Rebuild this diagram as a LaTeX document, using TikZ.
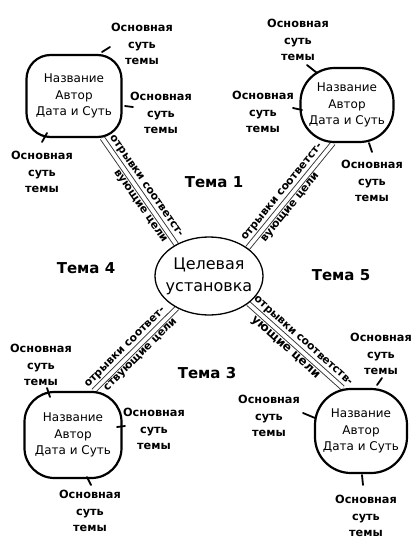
\documentclass[tikz,border=0pt]{standalone}
\usepackage{fontspec}
\setmainfont{DejaVu Sans}
\usetikzlibrary{shapes.geometric}
\pgfdeclarelayer{bg}
\pgfsetlayers{bg,main}
\newcommand\fsub{\fontsize{11.3}{16.8}\selectfont\bfseries}
\newcommand\fblob{\fontsize{12}{16.5}\selectfont}
\newcommand\fcen{\fontsize{16}{22}\selectfont}
\newcommand\ftema{\fontsize{15}{18}\selectfont\bfseries}
\newcommand\flab{\fontsize{10.8}{12}\selectfont\bfseries}
\begin{document}
\begin{tikzpicture}[x=1pt,y=-1pt,
  blob/.style={draw, line width=2.2pt, fill=white, align=center, inner sep=0pt,
    rectangle, font=\fblob},
  centre/.style={draw, line width=1.3pt, fill=white, align=center, ellipse,
    inner xsep=-6pt, inner ysep=4pt, minimum width=108pt, minimum height=78pt, font=\fcen},
  sub/.style={align=center, inner sep=0pt, font=\fsub},
  tema/.style={inner sep=0pt, font=\ftema},
  conn/.style={draw=black!80, double=white, double distance=3.8pt, line width=0.9pt},
  lab/.style={font=\flab, sloped, inner sep=0.5pt},
  tick/.style={line width=1.8pt, line cap=round}]
\useasboundingbox (0,0) rectangle (419,541);
\begin{pgfonlayer}{bg}
\fill[white] (0,0) rectangle (419,541);
\end{pgfonlayer}

% centre
\node[centre] (c) at (209,276) {Целевая\\установка};

% blobs
\node[blob, rounded corners=24pt, minimum width=95pt, minimum height=82pt] (tl) at (74,96) {Название\\Автор\\Дата и Суть};
\node[blob, rounded corners=34pt, minimum width=93pt, minimum height=74pt] (tr) at (347,105) {Название\\Автор\\Дата и Суть};
\node[blob, rounded corners=30pt, minimum width=97pt, minimum height=86pt] (bl) at (73,435) {Название\\Автор\\Дата и Суть};
\node[blob, rounded corners=36pt, minimum width=92pt, minimum height=84pt] (br) at (361,431) {Название\\Автор\\Дата и Суть};

% connectors
\begin{pgfonlayer}{bg}
\draw[conn] (tl.-56) -- (c.136)
  node[lab, pos=0.5, above=3pt] {отрывки соответст-}
  node[lab, pos=0.6, below=3pt] {вующие цели};
\draw[conn] (c.36) -- (tr.-110)
  node[lab, pos=0.48, above=3pt] {отрывки соответст-}
  node[lab, pos=0.43, below=3pt] {вующие цели};
\draw[conn] (bl.65) -- (c.-135)
  node[lab, pos=0.45, above=3pt] {отрывки соответ-}
  node[lab, pos=0.5, below=3pt] {ствующие цели};
\draw[conn] (c.-35) -- (br.113)
  node[lab, pos=0.52, above=3pt] {отрывки соответств-}
  node[lab, pos=0.45, below=3pt, font=\fontsize{12}{13}\selectfont\bfseries] {ующие цели};
\end{pgfonlayer}

% themes
\node[tema] (t1) at (214,182) {Тема 1};
\node[tema] (t4) at (86,268) {Тема 4};
\node[tema] (t5) at (341,275) {Тема 5};
\node[tema] (t3) at (207,373) {Тема 3};

% sub topics
\node[sub] (tl1) at (142,44) {Основная\\суть\\темы};
\node[sub] (tl2) at (161,113) {Основная\\суть\\темы};
\node[sub] (tl3) at (42,172) {Основная\\суть\\темы};
\node[sub] (tr1) at (298,40) {Основная\\суть\\темы};
\node[sub] (tr2) at (263,112) {Основная\\суть\\темы};
\node[sub] (tr3) at (372,181) {Основная\\суть\\темы};
\node[sub] (bl1) at (41,365) {Основная\\суть\\темы};
\node[sub] (bl2) at (154,429) {Основная\\суть\\темы};
\node[sub] (bl3) at (90,511) {Основная\\суть\\темы};
\node[sub] (br1) at (381,354) {Основная\\суть\\темы};
\node[sub] (br2) at (269,416) {Основная\\суть\\темы};
\node[sub] (br3) at (366,516) {Основная\\суть\\темы};

% ticks
\draw[tick] (102,52) -- (110,47);
\draw[tick] (125,106) -- (133,107);
\draw[tick] (42,142) -- (47,133);
\draw[tick] (307,65) -- (317,73);
\draw[tick] (293,108) -- (302,110);
\draw[tick] (369,143) -- (372,152);
\draw[tick] (47,388) -- (50,397);
\draw[tick] (117,427) -- (125,426);
\draw[tick] (87,477) -- (91,485);
\draw[tick] (377,385) -- (382,378);
\draw[tick] (303,413) -- (315,418);
\draw[tick] (362,475) -- (363,485);
\end{tikzpicture}
\end{document}
